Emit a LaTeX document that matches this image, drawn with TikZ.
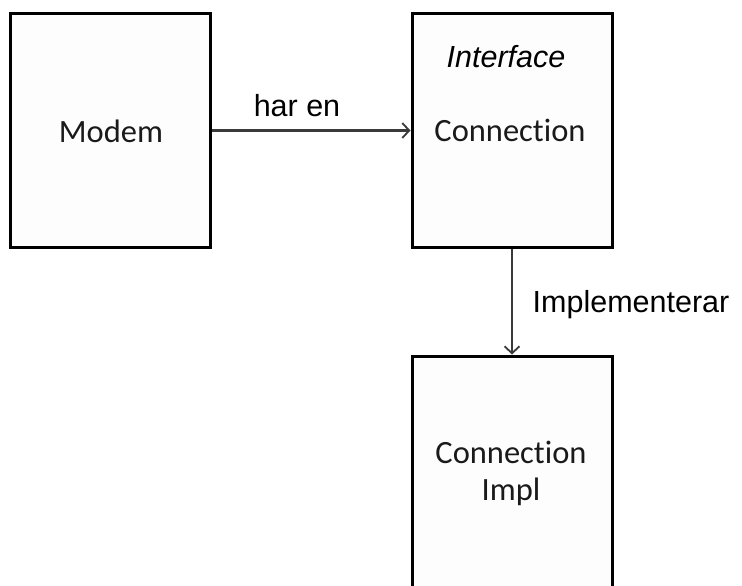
\documentclass[tikz,border=0pt]{standalone}
\usepackage{fontspec}
\setmainfont{Carlito}[Ligatures=NoCommon]
\newfontfamily\arialfont{Liberation Sans}
\usetikzlibrary{arrows.meta}
\definecolor{boxfill}{HTML}{FDFDFD}
\definecolor{arrowgray}{HTML}{3A3A3A}
\definecolor{textgray}{HTML}{1A1A1A}
\tikzset{
  umlbox/.style={draw=black, line width=3pt, fill=boxfill, minimum width=200pt, inner sep=0pt},
  calitext/.style={font=\fontsize{32.5}{39}\selectfont, text=textgray, anchor=base, inner sep=0pt},
  ariatext/.style={font=\arialfont\fontsize{30.5}{36}\selectfont, text=black, anchor=base, inner sep=0pt},
  conn/.style={draw=arrowgray, line width=2.4pt, -{Straight Barb[length=7pt,width=15pt,line width=1.8pt]}}
}
\begin{document}
\begin{tikzpicture}[x=1pt,y=-1pt]
\useasboundingbox (0,0) rectangle (742,586);
\clip (0,0) rectangle (742,586);
\fill[white] (0,0) rectangle (742,586);
\node[umlbox, minimum height=233pt] (modem) at (110,130.5) {};
\node[umlbox, minimum height=233pt] (iface) at (512,130.5) {};
\node[umlbox, minimum height=260pt] (impl) at (512,486) {};
\node[calitext] (modemtxt) at (111,142) {Modem};
\node[ariatext, font=\arialfont\itshape\fontsize{30.5}{36}\selectfont] (ifacetag) at (506,68) {Interface};
\node[calitext] (ifacetxt) at (510,141) {Connection};
\node[calitext] (impltxt1) at (511,463) {Connection};
\node[calitext] (impltxt2) at (511,500) {Impl};
\draw[conn] (modem.east) -- (iface.west);
\draw[conn] (iface.south) -- (impl.north);
\node[ariatext] (haren) at (297,117) {har en};
\node[ariatext] (impllbl) at (631,312) {Implementerar};
\end{tikzpicture}
\end{document}
